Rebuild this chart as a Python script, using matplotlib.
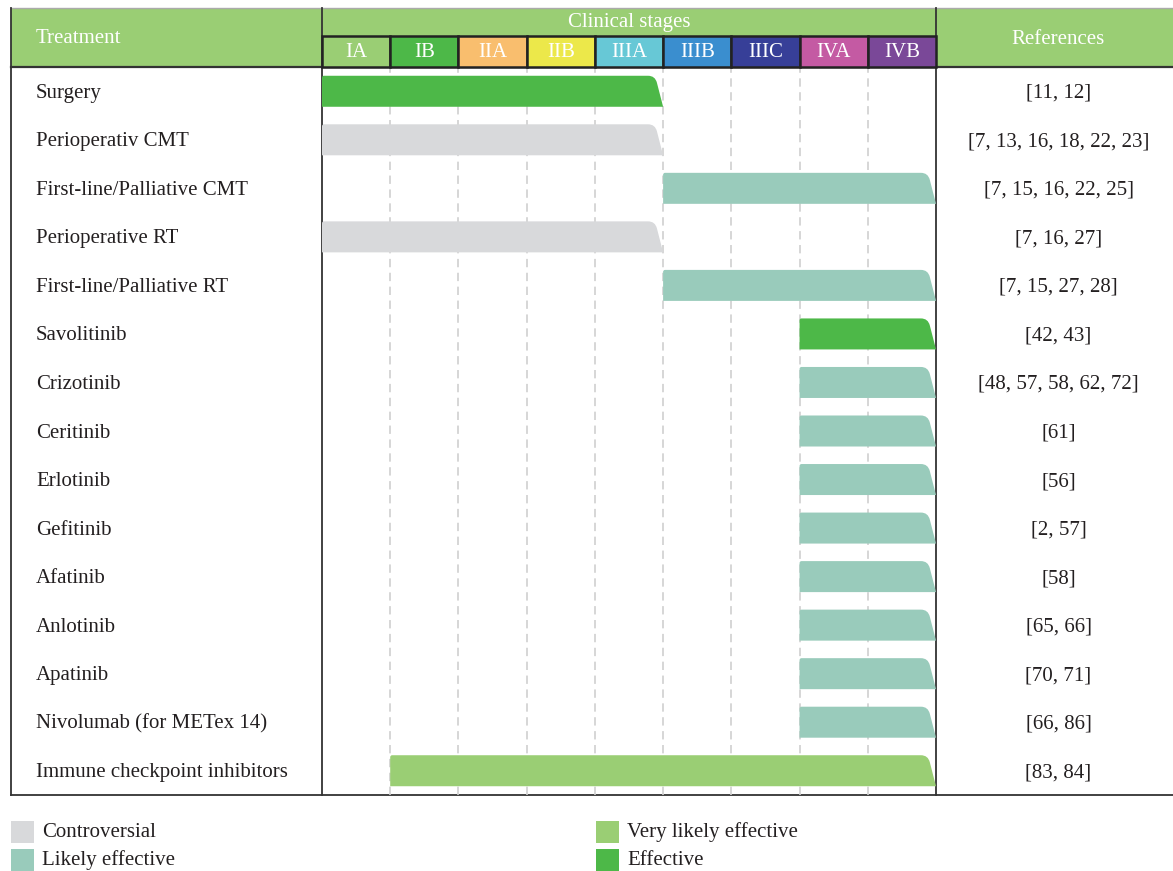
import matplotlib
matplotlib.use("Agg")
import matplotlib.pyplot as plt
from matplotlib.path import Path
from matplotlib.patches import PathPatch, Rectangle
from matplotlib.transforms import blended_transform_factory

plt.rcParams['font.family'] = ['Liberation Serif', 'DejaVu Serif']
plt.rcParams['lines.scale_dashes'] = False

# ---- data ----
stages = ["IA", "IB", "IIA", "IIB", "IIIA", "IIIB", "IIIC", "IVA", "IVB"]
stage_colors = ["#9ace74", "#4db848", "#f9be6e", "#ece84a", "#67c8d6",
                "#3a8ecf", "#373f98", "#c45aa3", "#7a4898"]

treatments = ["Surgery", "Perioperativ CMT", "First-line/Palliative CMT",
              "Perioperative RT", "First-line/Palliative RT", "Savolitinib",
              "Crizotinib", "Ceritinib", "Erlotinib", "Gefitinib", "Afatinib",
              "Anlotinib", "Apatinib", "Nivolumab (for METex 14)",
              "Immune checkpoint inhibitors"]
# first and last stage covered
start_stage = ["IA", "IA", "IIIB", "IA", "IIIB", "IVA", "IVA", "IVA", "IVA",
               "IVA", "IVA", "IVA", "IVA", "IVA", "IB"]
end_stage = ["IIIA", "IIIA", "IVB", "IIIA", "IVB", "IVB", "IVB", "IVB", "IVB",
             "IVB", "IVB", "IVB", "IVB", "IVB", "IVB"]
evidence = ["Effective", "Controversial", "Likely effective", "Controversial",
            "Likely effective", "Effective", "Likely effective", "Likely effective",
            "Likely effective", "Likely effective", "Likely effective",
            "Likely effective", "Likely effective", "Likely effective",
            "Very likely effective"]
references = ["[11, 12]", "[7, 13, 16, 18, 22, 23]", "[7, 15, 16, 22, 25]",
              "[7, 16, 27]", "[7, 15, 27, 28]", "[42, 43]",
              "[48, 57, 58, 62, 72]", "[61]", "[56]", "[2, 57]", "[58]",
              "[65, 66]", "[70, 71]", "[66, 86]", "[83, 84]"]

legend_order = ["Controversial", "Very likely effective", "Likely effective", "Effective"]
evidence_colors = {"Controversial": "#d8d9db", "Likely effective": "#99cbbb",
                   "Very likely effective": "#9ace74", "Effective": "#4db848"}

# ---- layout (pixels) ----
W, H = 1173, 871
LEFT, COL1, COL2, RIGHT = 11, 322, 936, 1173
TOP, MID, HDR_BOT, BODY_BOT = 8, 36, 67, 795
TXT = "#231f20"
LINE = "#333333"
FS = 15

fig = plt.figure(figsize=(W / 100, H / 100), dpi=100)

# overlay in pixel coords for the table frame
ov = fig.add_axes([0, 0, 1, 1])
ov.set_xlim(0, W)
ov.set_ylim(H, 0)
ov.axis("off")

# main bar axes
ax = fig.add_axes([COL1 / W, (H - BODY_BOT) / H, (COL2 - COL1) / W,
                   (BODY_BOT - HDR_BOT) / H])
ax.set_xlim(0, len(stages))
ax.set_ylim(len(treatments), 0)
ax.axis("off")

# stage header axes
hx = fig.add_axes([COL1 / W, (H - HDR_BOT) / H, (COL2 - COL1) / W,
                   (HDR_BOT - MID) / H])
hx.set_xlim(0, len(stages))
hx.set_ylim(0, 1)
hx.axis("off")

# header backgrounds
green = "#9ace74"
ov.add_patch(Rectangle((LEFT, TOP), RIGHT - LEFT, HDR_BOT - TOP,
                       facecolor=green, edgecolor="none", zorder=1))
ov.plot([LEFT, RIGHT], [TOP, TOP], color="#aaaaaa", lw=1, zorder=3)
ov.text(36, (TOP + HDR_BOT) / 2 + 1, "Treatment", color="white", fontsize=FS,
        va="center", ha="left", zorder=4)
ov.text((COL1 + COL2) / 2, (TOP + MID) / 2 + 1, "Clinical stages", color="white",
        fontsize=FS, va="center", ha="center", zorder=4)
ov.text((COL2 + RIGHT) / 2 + 4, (TOP + HDR_BOT) / 2 + 2, "References", color="white",
        fontsize=FS, va="center", ha="center", zorder=4)

for i, (s, c) in enumerate(zip(stages, stage_colors)):
    hx.bar(i + 0.5, 1, width=1, bottom=0, color=c, edgecolor="#222222",
           linewidth=1.8, clip_on=False)
    hx.text(i + 0.5, 0.47, s, color="white", fontsize=FS, ha="center",
            va="center")

# frame lines
ov.plot([LEFT, LEFT], [TOP, BODY_BOT], color=LINE, lw=1.3, zorder=5)
ov.plot([LEFT, RIGHT], [BODY_BOT, BODY_BOT], color=LINE, lw=1.3, zorder=5)
ov.plot([LEFT, RIGHT], [HDR_BOT, HDR_BOT], color=LINE, lw=1.6, zorder=5)
ov.plot([COL1, COL1], [TOP, BODY_BOT], color=LINE, lw=1.3, zorder=5)
ov.plot([COL2, COL2], [TOP, BODY_BOT], color=LINE, lw=1.3, zorder=5)

# dashed stage separators
for i in range(1, len(stages) + 1):
    ax.axvline(i if i < len(stages) else len(stages) + 0.04, color="#cfcfcf",
               lw=1.2, dashes=(6, 4), zorder=0)

# bars
px_x = (COL2 - COL1) / len(stages)
px_y = (BODY_BOT - HDR_BOT) / len(treatments)
bar_h = 31 / px_y
slant = 8 / px_x
rx, ry = 7 / px_x, 7 / px_y
lx, ly = 2 / px_x, 2 / px_y
txt_off = 2 / px_y


def bar_path(x0, x1, yc):
    top, bot = yc - bar_h / 2, yc + bar_h / 2
    verts = [(x0, bot), (x0, top + ly), (x0, top), (x0 + lx, top),
             (x1 - slant - rx, top), (x1 - slant, top),
             (x1 - slant + slant * ry / bar_h, top + ry), (x1, bot), (x0, bot)]
    codes = [Path.MOVETO, Path.LINETO, Path.CURVE3, Path.CURVE3, Path.LINETO,
             Path.CURVE3, Path.CURVE3, Path.LINETO, Path.CLOSEPOLY]
    return Path(verts, codes)


tr = blended_transform_factory(ov.transData, ax.transData)
for row, (t, s0, s1, ev, ref) in enumerate(zip(treatments, start_stage, end_stage,
                                               evidence, references)):
    x0 = stages.index(s0)
    x1 = stages.index(s1) + 1
    ax.add_patch(PathPatch(bar_path(x0, x1, row + 0.5),
                           facecolor=evidence_colors[ev], edgecolor="none",
                           zorder=2))
    ov.text(36, row + 0.5 + txt_off, t, transform=tr, fontsize=FS, color=TXT,
            ha="left", va="center")
    ov.text((COL2 + RIGHT) / 2 + 4, row + 0.5 + txt_off, ref, transform=tr,
            fontsize=FS, color=TXT, ha="center", va="center")

# legend
leg_pos = [(11, 821), (596, 821), (11, 849), (596, 849)]
for name, (lx0, ly0) in zip(legend_order, leg_pos):
    ov.add_patch(Rectangle((lx0, ly0), 23, 22, facecolor=evidence_colors[name],
                           edgecolor="none"))
    ov.text(lx0 + 31, ly0 + 11, name, fontsize=FS, color=TXT, ha="left",
            va="center")

fig.savefig("out.png", dpi=100)
